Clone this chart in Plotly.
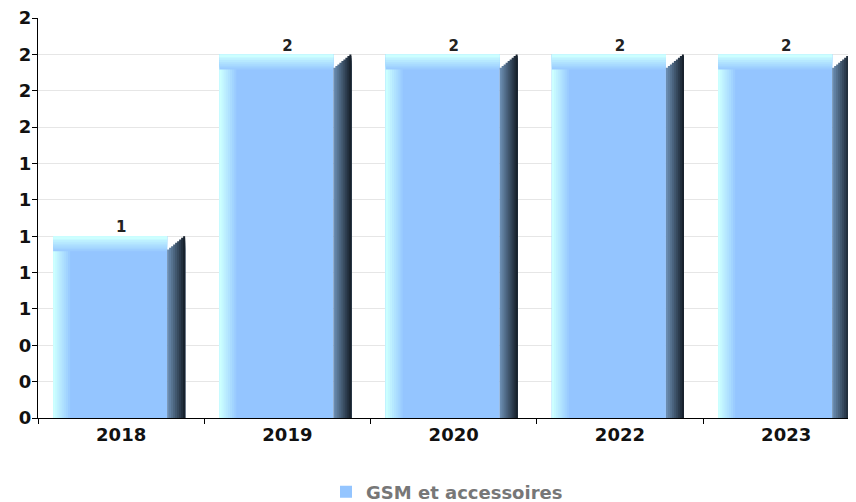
import plotly.graph_objects as go

# chart data
years = ["2018", "2019", "2020", "2022", "2023"]
values = [1, 2, 2, 2, 2]
value_labels = ["1", "2", "2", "2", "2"]
series_name = "GSM et accessoires"

# pixel geometry -> data units
PX_X = 818 / 4.92      # px per category
PX_Y = 400 / 2.2       # px per y unit
FRONT_L, FRONT_R, SIDE_R = -68, 46, 64
TOP_T = 15 / PX_Y


def mix(c1, c2, t):
    a = [int(c1[i:i + 2], 16) for i in (1, 3, 5)]
    b = [int(c2[i:i + 2], 16) for i in (1, 3, 5)]
    return "#" + "".join("%02x" % round(a[j] + (b[j] - a[j]) * t) for j in range(3))


BLUE = "#94c5ff"
CYAN = "#ccffff"

fig = go.Figure()

# front face
fig.add_trace(go.Bar(
    x=years, y=values, name=series_name,
    offset=FRONT_L / PX_X, width=(FRONT_R - FRONT_L) / PX_X,
    marker=dict(color=BLUE, line=dict(width=0)),
    showlegend=True, hoverinfo="skip"))

# left highlight
n = 8
for k in range(n):
    w = 17 * (n - k) / n
    fig.add_trace(go.Bar(
        x=years, y=values, offset=FRONT_L / PX_X, width=w / PX_X,
        marker=dict(color=mix(BLUE, CYAN, (k + 1) / n), line=dict(width=0)),
        showlegend=False, hoverinfo="skip"))

# top highlight
for k in range(n):
    h = TOP_T * (n - k) / n
    fig.add_trace(go.Bar(
        x=years, y=[h] * len(values), base=[v - h for v in values],
        offset=FRONT_L / PX_X, width=(FRONT_R - FRONT_L) / PX_X,
        marker=dict(color=mix(BLUE, CYAN, (k + 1) / n), line=dict(width=0)),
        showlegend=False, hoverinfo="skip"))

# dark side
m = 9
for k in range(m):
    x0 = FRONT_R + (SIDE_R - FRONT_R) * k / m
    top = [v - TOP_T * (1 - (k + 1) / m) for v in values]
    fig.add_trace(go.Bar(
        x=years, y=top, offset=x0 / PX_X, width=(SIDE_R - x0) / PX_X,
        marker=dict(color=mix("#6a8cb0", "#18222d", k / (m - 1)), line=dict(width=0)),
        showlegend=False, hoverinfo="skip"))

# value labels
fig.add_trace(go.Scatter(
    x=years, y=values, text=value_labels, mode="text",
    textposition="top center",
    textfont=dict(family="DejaVu Sans", size=15, color="#222222", weight="bold"),
    showlegend=False, hoverinfo="skip"))

tick_font = dict(family="DejaVu Sans", size=18, color="#111111", weight="bold")

# the page adds an 8px body margin, so the figure is 8px smaller
fig.update_layout(
    width=848, height=494,
    margin=dict(l=30, r=0, t=10, b=84, autoexpand=False),
    barmode="overlay",
    plot_bgcolor="white", paper_bgcolor="white",
    font=dict(family="DejaVu Sans", size=14, color="#111111"),
    legend=dict(orientation="h", x=0.5, xanchor="center", y=-0.185, yanchor="middle",
                font=dict(family="DejaVu Sans", size=18, color="#777777", weight="bold")),
    xaxis=dict(type="category", range=[-0.5, 4.42], showgrid=False, automargin=False,
               showline=True, linecolor="#000000", linewidth=1,
               ticks="outside", ticklen=5, tickcolor="#000000", tickson="boundaries",
               tickfont=tick_font),
    yaxis=dict(range=[0, 2.2001], tick0=0, dtick=0.2, tickformat=".0f", automargin=False,
               showgrid=True, gridcolor="#e6e6e6", zeroline=False,
               showline=True, linecolor="#000000", linewidth=1,
               ticks="outside", ticklen=5, tickcolor="#000000",
               ticklabeloverflow="allow", ticklabelstandoff=-3,
               tickfont=tick_font),
)

fig.write_html("out.html")
